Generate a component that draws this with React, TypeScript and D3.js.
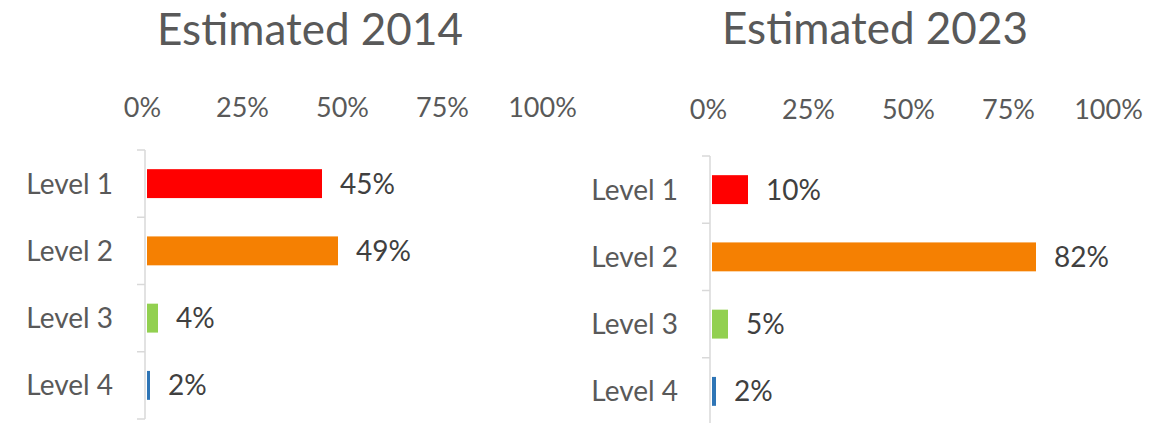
import * as d3 from 'd3'
import { useEffect, useRef } from 'react'

const categories = ['Level 1', 'Level 2', 'Level 3', 'Level 4']
const values2014 = [45, 49, 4, 2]
const values2023 = [10, 82, 5, 2]
const barColors = ['#ff0000', '#f58002', '#92d050', '#2e75b6']
const tickValues = [0, 25, 50, 75, 100]

const panels = [
  { title: 'Estimated 2014', values: values2014, x0: 142, x1: 542, axisX: 145, yTop: 150, yBottom: 419, titleX: 310, titleY: 45, tickY: 117 },
  { title: 'Estimated 2023', values: values2023, x0: 708, x1: 1108, axisX: 710, yTop: 156, yBottom: 425, titleX: 875, titleY: 44, tickY: 119 },
]

const FONT = 'Lato, "Open Sans", sans-serif'

const App = () => {
  const svgRef = useRef<SVGSVGElement>(null)

  useEffect(() => {
    const svg = d3.select(svgRef.current)
    svg.selectAll('*').remove()

    panels.forEach((p) => {
      const g = svg.append('g')
      const x = d3.scaleLinear().domain([0, 100]).range([p.x0, p.x1])
      const y = d3
        .scaleBand()
        .domain(categories)
        .range([p.yTop, p.yBottom])
        .paddingInner(0.57)
        .paddingOuter(0.285)

      // title
      g.append('text')
        .attr('x', p.titleX)
        .attr('y', p.titleY)
        .attr('text-anchor', 'middle')
        .style('font-family', FONT)
        .style('font-size', '44px')
        .style('fill', '#595959')
        .text(p.title)

      // top axis labels
      const xAxis = d3
        .axisTop(x)
        .tickValues(tickValues)
        .tickSize(0)
        .tickPadding(0)
        .tickFormat((d) => `${d}%`)
      const xAxisG = g.append('g').attr('transform', `translate(0, ${p.tickY})`)
      xAxis(xAxisG)
      xAxisG.select('.domain').remove()
      xAxisG
        .selectAll('text')
        .style('font-family', FONT)
        .style('font-size', '27px')
        .style('fill', '#595959')

      // category axis: line + ticks at band edges
      const step = y.step()
      g.append('line')
        .attr('x1', p.axisX)
        .attr('x2', p.axisX)
        .attr('y1', p.yTop)
        .attr('y2', p.yBottom)
        .style('stroke', '#d9d9d9')
        .style('stroke-width', 1.5)
      g.append('g')
        .selectAll('line')
        .data(d3.range(categories.length + 1))
        .join('line')
        .attr('x1', p.axisX - 8)
        .attr('x2', p.axisX)
        .attr('y1', (i) => p.yTop + i * step)
        .attr('y2', (i) => p.yTop + i * step)
        .style('stroke', '#d9d9d9')
        .style('stroke-width', 1.5)

      g.append('g')
        .selectAll('text')
        .data(categories)
        .join('text')
        .attr('x', p.axisX - 32)
        .attr('y', (d) => y(d)! + y.bandwidth() / 2)
        .attr('dy', '0.36em')
        .attr('text-anchor', 'end')
        .style('font-family', FONT)
        .style('font-size', '28px')
        .style('fill', '#595959')
        .text((d) => d)

      // bars
      const barStart = p.axisX + 2
      g.append('g')
        .selectAll('rect')
        .data(p.values)
        .join('rect')
        .attr('x', barStart)
        .attr('y', (d, i) => y(categories[i])!)
        .attr('width', (d) => Math.max(3, x(d) - barStart))
        .attr('height', y.bandwidth())
        .style('fill', (d, i) => barColors[i])

      // data labels
      g.append('g')
        .selectAll('text')
        .data(p.values)
        .join('text')
        .attr('x', (d) => Math.max(barStart + 3, x(d)) + 18)
        .attr('y', (d, i) => y(categories[i])! + y.bandwidth() / 2)
        .attr('dy', '0.36em')
        .style('font-family', FONT)
        .style('font-size', '28px')
        .style('fill', '#404040')
        .text((d) => `${d}%`)
    })
  }, [])

  return (
    <svg
      ref={svgRef}
      width={1168}
      height={423}
      style={{ position: 'absolute', left: 0, top: 0, background: '#fff' }}
    ></svg>
  )
}

export default App
